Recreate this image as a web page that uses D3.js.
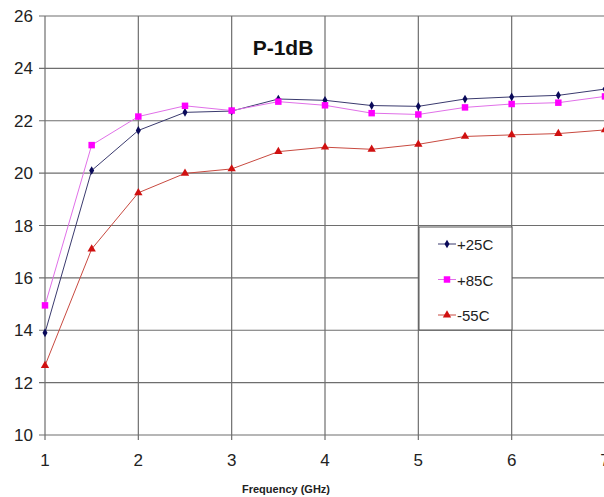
<!DOCTYPE html>
<html>
<head>
<meta charset="utf-8">
<script src="https://cdn.jsdelivr.net/npm/d3@7"></script>
<style>
  body { margin: 0; background: #fff; }
  svg { display: block; font-family: "Liberation Sans", Arial, sans-serif; }
</style>
</head>
<body>
<div id="chart"></div>
<script>
const freqs = [1, 1.5, 2, 2.5, 3, 3.5, 4, 4.5, 5, 5.5, 6, 6.5, 7];
const p25 = [13.9, 20.1, 21.63, 22.32, 22.37, 22.83, 22.78, 22.58, 22.55, 22.83, 22.91, 22.97, 23.21];
const p85 = [14.95, 21.07, 22.16, 22.57, 22.39, 22.73, 22.59, 22.29, 22.24, 22.51, 22.64, 22.69, 22.93];
const m55 = [12.65, 17.1, 19.25, 19.99, 20.16, 20.82, 20.99, 20.91, 21.1, 21.4, 21.46, 21.51, 21.65];
const yTicks = [10, 12, 14, 16, 18, 20, 22, 24, 26];
const xTicks = [1, 2, 3, 4, 5, 6, 7];

const series = [
  { name: "+25C", values: p25, line: "#3a3a6e", fill: "#0a0a5a", marker: "diamond", size: 22 },
  { name: "+85C", values: p85, line: "#e070e8", fill: "#ff00ff", marker: "square", size: 42 },
  { name: "-55C", values: m55, line: "#c84a40", fill: "#d01010", marker: "triangle", size: 30 }
];

const width = 604, height = 497;
const svg = d3.select("#chart").append("svg")
    .attr("width", width)
    .attr("height", height);

const x = d3.scaleLinear().domain([1, 7]).range([45, 605]);
const y = d3.scaleLinear().domain([10, 26]).range([435, 16]);

// grid lines
svg.append("g").selectAll("line.h")
    .data(yTicks)
    .enter().append("line")
    .attr("x1", 39).attr("x2", width)
    .attr("y1", d => y(d)).attr("y2", d => y(d))
    .attr("stroke", "#6e6e6e").attr("stroke-width", 1.2);

svg.append("g").selectAll("line.v")
    .data(xTicks)
    .enter().append("line")
    .attr("x1", d => x(d)).attr("x2", d => x(d))
    .attr("y1", y(26)).attr("y2", y(10) + 5)
    .attr("stroke", "#6e6e6e").attr("stroke-width", 1.2);

// tick labels
svg.append("g").selectAll("text")
    .data(yTicks)
    .enter().append("text")
    .attr("x", 33)
    .attr("y", d => y(d) + 6)
    .attr("text-anchor", "end")
    .attr("font-size", 17)
    .attr("fill", "#222")
    .text(d => d);

svg.append("g").selectAll("text")
    .data(xTicks)
    .enter().append("text")
    .attr("x", d => x(d))
    .attr("y", 466)
    .attr("text-anchor", "middle")
    .attr("font-size", 17)
    .attr("fill", "#222")
    .text(d => d);

svg.append("text")
    .attr("x", 286).attr("y", 493)
    .attr("text-anchor", "middle")
    .attr("font-size", 11).attr("font-weight", "bold")
    .attr("fill", "#222")
    .text("Frequency (GHz)");

svg.append("text")
    .attr("x", 283).attr("y", 55)
    .attr("text-anchor", "middle")
    .attr("font-size", 21).attr("font-weight", "bold")
    .attr("fill", "#111")
    .text("P-1dB");

const symbolType = { diamond: d3.symbolDiamond, square: d3.symbolSquare, triangle: d3.symbolTriangle };

const line = d3.line()
    .x((d, i) => x(freqs[i]))
    .y(d => y(d));

series.forEach(s => {
  svg.append("path")
      .datum(s.values)
      .attr("fill", "none")
      .attr("stroke", s.line)
      .attr("stroke-width", 1)
      .attr("d", line);

  svg.append("g").selectAll("path")
      .data(s.values)
      .enter().append("path")
      .attr("transform", (d, i) => "translate(" + x(freqs[i]) + "," + y(d) + ")")
      .attr("d", d3.symbol().type(symbolType[s.marker]).size(s.size))
      .attr("fill", s.fill);
});

// legend
const legend = svg.append("g").attr("transform", "translate(419,227)");
legend.append("rect")
    .attr("width", 93).attr("height", 103)
    .attr("fill", "#fff")
    .attr("stroke", "#555").attr("stroke-width", 1);

series.forEach((s, i) => {
  const g = legend.append("g").attr("transform", "translate(0," + (17 + i * 35.5) + ")");
  g.append("line")
      .attr("x1", 19).attr("x2", 37)
      .attr("stroke", s.line).attr("stroke-width", 1);
  g.append("path")
      .attr("transform", "translate(28,0)")
      .attr("d", d3.symbol().type(symbolType[s.marker]).size(s.size))
      .attr("fill", s.fill);
  g.append("text")
      .attr("x", 38).attr("y", 6)
      .attr("font-size", 15)
      .attr("fill", "#222")
      .text(s.name);
});
</script>
</body>
</html>
